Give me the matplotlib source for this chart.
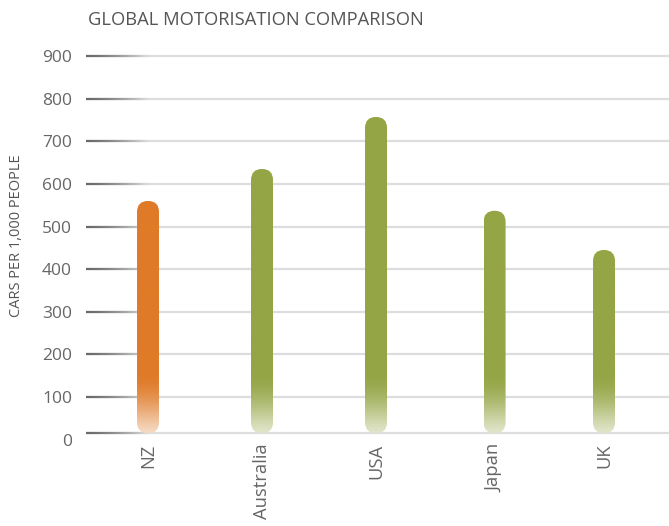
import numpy as np
import matplotlib
matplotlib.use("Agg")
import matplotlib.pyplot as plt
from matplotlib.patches import FancyBboxPatch
from matplotlib.collections import LineCollection
from matplotlib.colors import to_rgb

# Cars per 1,000 people
countries = ["NZ", "Australia", "USA", "Japan", "UK"]
cars_per_1000 = [560, 635, 757, 537, 445]
bar_colors = ["#DF7A28", "#94A545", "#94A545", "#94A545", "#94A545"]
y_ticks = [0, 100, 200, 300, 400, 500, 600, 700, 800, 900]

W, H, DPI = 669, 526, 100
fig = plt.figure(figsize=(W / DPI, H / DPI), dpi=DPI)
plt.rcParams["font.family"] = ["Open Sans", "DejaVu Sans"]

ax_left, ax_bottom = 86 / W, (H - 439.7) / H
ax_top = (H - 56) / H
ax = fig.add_axes([ax_left, ax_bottom, 1 - ax_left, ax_top - ax_bottom])

x_pos = np.array([0, 1, 2, 3.04, 4.0])
xmin, xmax = -0.544, 4.57
ymin, ymax = 0, 900
ax.set_xlim(xmin, xmax)
ax.set_ylim(ymin, ymax)
for s in ax.spines.values():
    s.set_visible(False)

# gridlines: light grey with a dark fade-in at the left end
base = 15
grid_levels = [base] + y_ticks[1:]
for lv in grid_levels:
    ax.plot([xmin, xmax], [lv, lv], color="#dddddd", lw=1.6, zorder=1,
            solid_capstyle="butt", clip_on=False)
    n = 40
    xs = np.linspace(xmin, xmin + 0.55, n + 1)
    segs = [[(xs[i], lv), (xs[i + 1], lv)] for i in range(n)]
    dark = np.array(to_rgb("#6a6a6a"))
    light = np.array(to_rgb("#dddddd"))
    t = np.linspace(0, 1, n) ** 1.4
    cols = [tuple(dark * (1 - k) + light * k) for k in t]
    ax.add_collection(LineCollection(segs, colors=cols, linewidths=1.6,
                                     zorder=1.5, clip_on=False))

# axis scale factors for rounded caps
ax_w_px = (1 - ax_left) * W
ax_h_px = (ax_top - ax_bottom) * H
x_per_px = (xmax - xmin) / ax_w_px
y_per_px = (ymax - ymin) / ax_h_px

bar_w = 22 * x_per_px
fade_top = 160

for xc, val, col in zip(x_pos, cars_per_1000, bar_colors):
    c = np.array(to_rgb(col))
    pale = c + (1 - c) * 0.72
    ys = np.linspace(base, val, 400)
    frac = np.clip((ys - base) / (fade_top - base), 0, 1)
    frac = np.sin(frac * np.pi / 2) ** 1.2
    img = pale[None, :] * (1 - frac[:, None]) + c[None, :] * frac[:, None]
    img = np.repeat(img[:, None, :], 2, axis=1)
    x0 = xc - bar_w / 2
    im = ax.imshow(img, extent=[x0, x0 + bar_w, base, val], origin="lower",
                   aspect="auto", interpolation="bilinear", zorder=3)
    patch = FancyBboxPatch((x0, base), bar_w, val - base,
                           boxstyle=f"round,pad=0,rounding_size={bar_w / 2}",
                           mutation_aspect=y_per_px / x_per_px,
                           transform=ax.transData, facecolor="none",
                           edgecolor="none")
    ax.add_patch(patch)
    im.set_clip_path(patch)

ax.set_xlim(xmin, xmax)
ax.set_ylim(ymin, ymax)

ax.set_yticks(y_ticks)
ax.set_yticklabels([str(v) for v in y_ticks])
ax.tick_params(axis="y", length=0, pad=10, labelsize=12.5, labelcolor="#666666")
ax.set_xticks(x_pos)
ax.set_xticklabels(countries, rotation=90)
ax.tick_params(axis="x", length=0, pad=3, labelsize=13.2, labelcolor="#666666")

fig.text(88 / W, 1 - 20 / H, "GLOBAL MOTORISATION COMPARISON", fontsize=13.2,
         color="#555555", ha="left", va="center")
fig.text(17 / W, 1 - 236 / H, "CARS PER 1,000 PEOPLE", fontsize=10.5,
         color="#555555", rotation=90, ha="center", va="center")

fig.savefig("out.png", dpi=DPI)
